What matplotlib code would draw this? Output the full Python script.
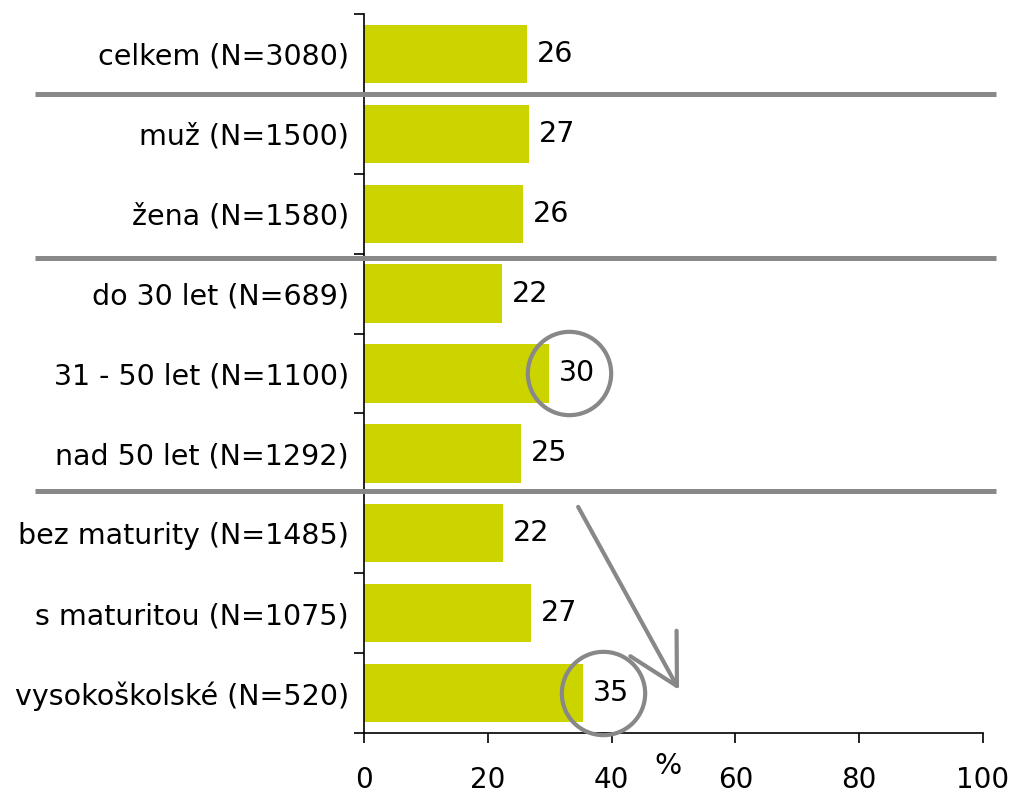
import matplotlib
matplotlib.use('Agg')
import matplotlib.pyplot as plt
from matplotlib.transforms import ScaledTranslation, blended_transform_factory

categories = ['celkem (N=3080)', 'muž (N=1500)', 'žena (N=1580)',
              'do 30 let (N=689)', '31 - 50 let (N=1100)', 'nad 50 let (N=1292)',
              'bez maturity (N=1485)', 's maturitou (N=1075)', 'vysokoškolské (N=520)']
values = [26.3, 26.6, 25.7, 22.3, 29.9, 25.4, 22.4, 27.0, 35.4]
labels = ['26', '27', '26', '22', '30', '25', '22', '27', '35']
highlighted = [4, 8]
group_breaks = [0.5, 2.55, 5.47]
x_ticks = [0, 20, 40, 60, 80, 100]

bar_color = '#CCD400'
gray = '#888888'

plt.rcParams['font.family'] = 'DejaVu Sans'
fig = plt.figure(figsize=(10.12, 7.94), dpi=100)
ax = fig.add_axes([0.3597, 0.0768, 0.9713 - 0.3597, 0.9824 - 0.0768])

rows = list(range(len(categories)))
ax.barh(rows, values, height=0.73, color=bar_color, zorder=2)

for r, v, t in zip(rows, values, labels):
    ax.annotate(t, (v, r), xytext=(7, 0), textcoords='offset points',
                ha='left', va='center', fontsize=20.5)

# circles around highlighted labels
for r in highlighted:
    tr = ax.transData + ScaledTranslation(0.2, 0, fig.dpi_scale_trans)
    ax.plot([values[r]], [r], marker='o', markersize=60, mfc='none',
            mec=gray, mew=3, transform=tr, clip_on=False, zorder=3)

# group separators
sep_tr = blended_transform_factory(ax.transAxes, ax.transData)
for y in group_breaks:
    ax.plot([-0.531, 1.021], [y, y], color=gray, lw=3.6, transform=sep_tr,
            clip_on=False, zorder=4, solid_capstyle='butt')

# arrow
ax.annotate('', xy=(50.9, 7.96), xytext=(34.6, 5.67),
            arrowprops=dict(arrowstyle='->,head_length=3.5,head_width=1.9',
                            mutation_scale=10, color=gray, lw=3,
                            shrinkA=0, shrinkB=0),
            annotation_clip=False)

ax.set_xlim(0, 100)
ax.set_ylim(8.5, -0.5)
ax.set_xticks(x_ticks)
ax.tick_params(axis='x', direction='out', length=7, width=1.2, labelsize=20, pad=16.5)
ax.set_yticks(rows)
ax.set_yticklabels(categories)
ax.set_yticks([r - 0.5 for r in rows] + [8.5], minor=True)
ax.tick_params(axis='y', which='major', length=0, labelsize=20.5, pad=11)
ax.tick_params(axis='y', which='minor', direction='out', length=7, width=1.2)

for s in ['top', 'right']:
    ax.spines[s].set_visible(False)
for s in ['left', 'bottom']:
    ax.spines[s].set_linewidth(1.2)

ax.set_xlabel('%', fontsize=20.5)
ax.xaxis.set_label_coords(0.491, -0.026)

fig.savefig('out.png', dpi=100)
